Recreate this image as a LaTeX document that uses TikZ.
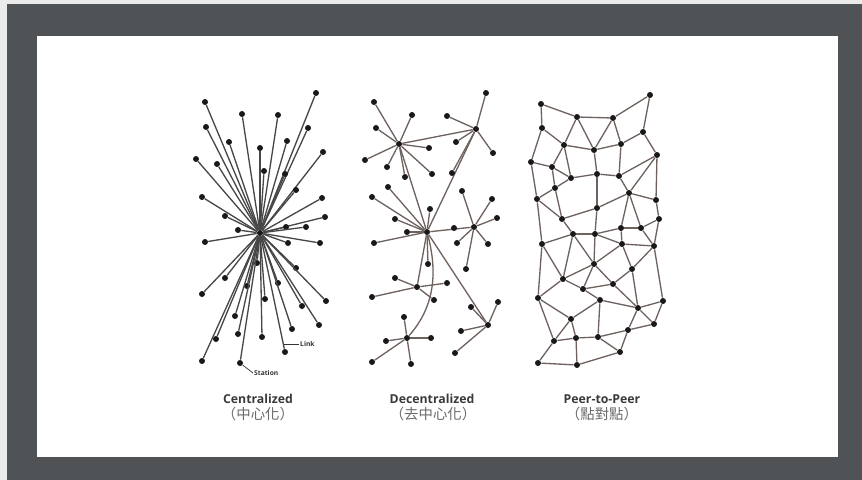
\documentclass[tikz,border=0pt]{standalone}
\usepackage{fontspec}
\setmainfont{Open Sans}
\newfontfamily\cjk{Noto Sans CJK TC}
\usetikzlibrary{positioning, calc}

\definecolor{frame}{HTML}{505356}
\definecolor{linkgray}{HTML}{6E625E}
\definecolor{caption}{HTML}{3A3A3A}

\begin{document}
\begin{tikzpicture}[x=0.02cm, y=-0.02cm,
    station/.style={circle, fill=black!90, inner sep=0pt, minimum size=0.12cm},
    link/.style={draw=linkgray, line width=0.75pt},
    title/.style={font=\fontsize{7}{8}\selectfont\bfseries, text=caption},
    subtitle/.style={font=\cjk\fontsize{8.2}{9}\selectfont, text=caption!75},
    tag/.style={font=\fontsize{3.8}{4}\selectfont\bfseries, text=black!80, anchor=west, inner sep=0.5pt}]
\useasboundingbox (0,0) rectangle (862,480);
% frame
\fill[black!8] (0,0) rectangle (862,480);
\fill[frame] (7,4) rectangle (862,480);
\fill[white] (37,36) rectangle (838,457);

% centralized
\node[station] (c0) at (260,233) {};
\foreach \x/\y [count=\i] in {205/102,242/114,278/115,316/93,206/127,308/128,229/142,287/141,
    260/148,196/159,323/152,217/164,264/171,285/174,296/190,202/197,322/198,225/216,325/217,
    286/227,306/227,238/230,205/242,288/243,320/243,257/263,296/268,225/278,278/283,247/286,
    202/294,326/301,265/299,302/306,235/316,319/325,292/329,238/334,262/337,216/339,285/352,
    202/361,240/363} {
    \node[station] (c\i) at (\x,\y) {};
    \draw[link, draw=black!72] (c0) -- (c\i);
}
\coordinate (linkpt) at (284,344);
\node[tag] (linktag) at (299,344) {Link};
\draw[black!80, line width=0.4pt] (linkpt) -- (linktag.west);
\node[tag] (stationtag) at (253,373) {Station};
\draw[black!80, line width=0.4pt] (c43) -- (stationtag.west);

% decentralized
\node[station] (A) at (399,144) {};
\node[station] (B) at (476,129) {};
\node[station] (C) at (427,232) {};
\node[station] (D) at (474,227) {};
\node[station] (E) at (417,287) {};
\node[station] (F) at (407,338) {};
\node[station] (G) at (488,325) {};
\draw[link] (A) -- (B);
\draw[link] (A) -- (C);
\draw[link] (B) -- (C);
\draw[link] (C) -- (D);
\draw[link] (C) -- (E);
\draw[link] (C) -- (G);
\draw[link] (C) .. controls (437,270) and (436,305) .. (F);
\foreach \x/\y [count=\i] in {374/102,412/115,376/128,429/148,365/160,387/167,405/177,432/174} {
    \node[station] (A\i) at (\x,\y) {};
    \draw[link] (A) -- (A\i);
}
\foreach \x/\y [count=\i] in {486/93,447/116,456/142,493/153,452/173} {
    \node[station] (B\i) at (\x,\y) {};
    \draw[link] (B) -- (B\i);
}
\foreach \x/\y [count=\i] in {388/187,372/197,430/209,395/219,407/232,374/243,428/264} {
    \node[station] (C\i) at (\x,\y) {};
    \draw[link] (C) -- (C\i);
}
\foreach \x/\y [count=\i] in {462/191,492/199,497/218,457/243,488/244,466/269} {
    \node[station] (D\i) at (\x,\y) {};
    \draw[link] (D) -- (D\i);
}
\node[station] (D7) at (454,228) {};
\foreach \x/\y [count=\i] in {395/278,447/283,372/297,434/300} {
    \node[station] (E\i) at (\x,\y) {};
    \draw[link] (E) -- (E\i);
}
\foreach \x/\y [count=\i] in {404/317,386/341,431/338,372/362,411/364} {
    \node[station] (F\i) at (\x,\y) {};
    \draw[link] (F) -- (F\i);
}
\foreach \x/\y [count=\i] in {471/307,498/302,461/331,455/353} {
    \node[station] (G\i) at (\x,\y) {};
    \draw[link] (G) -- (G\i);
}

% peer-to-peer
\foreach \x/\y [count=\i] in {541/104,577/117,613/118,650/95,542/128,643/132,564/145,594/150,
    621/144,657/155,531/162,552/167,571/178,597/174,619/176,555/188,629/193,537/199,656/200,
    597/208,562/219,659/219,621/228,641/228,573/234,595/234,542/244,622/244,654/246,594/264,
    632/269,563/279,613/284,583/289,538/298,600/300,663/301,638/308,571/319,654/324,628/330,
    554/341,576/338,598/337,620/352,538/363,577/365}
    \node[station] (p\i) at (\x,\y) {};
\foreach \a/\b in {1/2,2/3,3/4,1/5,4/6,2/7,2/8,3/8,3/9,5/7,5/11,7/8,8/9,6/9,6/10,7/12,7/13,
    11/12,8/14,9/15,10/15,12/13,13/14,14/15,12/16,13/16,11/18,16/18,10/19,10/17,15/17,17/19,
    17/20,17/23,17/24,14/20,16/21,20/21,18/21,18/27,19/22,22/24,23/24,21/25,25/26,26/23,20/26,
    25/27,22/29,24/29,23/28,28/29,26/28,25/32,25/30,26/30,28/30,27/32,27/35,30/32,30/33,30/34,
    32/34,33/34,28/31,29/31,31/33,32/35,34/36,29/37,33/38,36/38,31/38,37/38,35/39,36/39,36/44,
    38/40,37/40,38/41,40/41,35/42,39/42,39/43,42/43,43/44,44/41,44/45,41/45,42/46,43/47,46/47,
    47/45}
    \draw[link] (p\a) -- (p\b);

% captions
\node[title] (cent) at (258,399) {Centralized};
\node[subtitle] (centzh) at (258,414) {（中心化）};
\node[title] (decent) at (432,399) {Decentralized};
\node[subtitle] (decentzh) at (433,414) {（去中心化）};
\node[title] (peer) at (602,399) {Peer-to-Peer};
\node[subtitle] (peerzh) at (602,414) {（點對點）};
\end{tikzpicture}
\end{document}
